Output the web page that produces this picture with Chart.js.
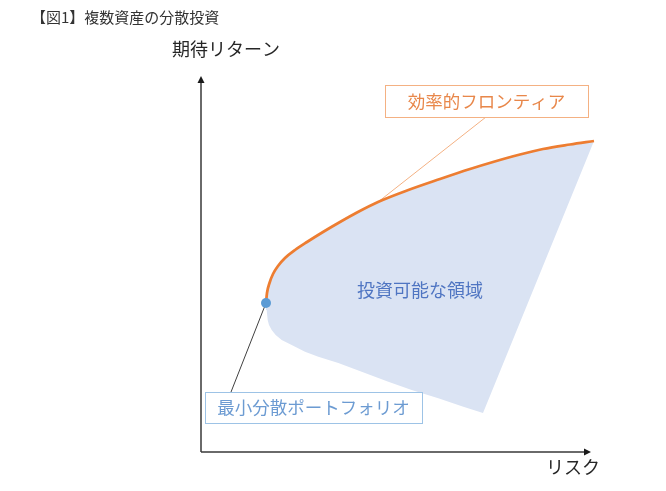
<!DOCTYPE html>
<html lang="ja">
<head>
<meta charset="utf-8">
<title>複数資産の分散投資</title>
<script src="https://cdn.jsdelivr.net/npm/chart.js@4/dist/chart.umd.min.js"></script>
<style>
  html, body { margin: 0; padding: 0; background: #ffffff; }
  canvas { display: block; }
</style>
</head>
<body>
<canvas id="chart" width="666" height="491"></canvas>
<script>
// Efficient frontier (upper edge of the feasible set), risk vs. expected return
const frontierRisk   = [16.25, 16.5, 17.125, 18, 19.25, 21, 23.5, 26.5, 30.5, 34.75, 39, 44.25, 51.5, 59.75, 67.25, 73, 79.75, 85.5, 92.25, 98.25];
const frontierReturn = [37.25, 39.75, 42.25, 44.5, 46.5, 48.5, 50.5, 52.5, 55, 57.5, 59.875, 62.5, 65.375, 68.25, 70.75, 72.5, 74.375, 75.75, 76.875, 77.75];

// Lower edge of the feasible set, from the bottom-right tip back to the minimum-variance point
const lowerRisk   = [70.5, 65.58, 59.33, 52.67, 46.83, 40.17, 34.33, 29.33, 26, 22.67, 20.17, 18.67, 17.67, 17, 16.67, 16.42];
const lowerReturn = [9.75, 11.33, 13.42, 15.5, 17.58, 20.08, 22.25, 23.83, 25.08, 26.75, 28, 29.25, 30.5, 31.75, 33, 35.5];

// Text
const titleText     = '【図1】複数資産の分散投資';
const yAxisTitle    = '期待リターン';
const xAxisTitle    = 'リスク';
const frontierLabel = '効率的フロンティア';
const minVarLabel   = '最小分散ポートフォリオ';
const regionLabel   = '投資可能な領域';

const FONT = '"Noto Sans CJK JP", "Noto Sans", sans-serif';

const frontierPts = frontierRisk.map((x, i) => ({ x, y: frontierReturn[i] }));
const lowerPts    = lowerRisk.map((x, i) => ({ x, y: lowerReturn[i] }));
const regionPts   = frontierPts.concat(lowerPts, [frontierPts[0]]);
const minVarPts   = [frontierPts[0]];
const calloutPt   = frontierPts[11];   // where the frontier label's leader meets the curve

// Decorations: axes with arrows, labels, callout boxes and leader lines
const decorations = {
  id: 'decorations',
  beforeDatasetsDraw(chart) {
    const { ctx, scales: { x, y } } = chart;
    const X = v => x.getPixelForValue(v);
    const Y = v => y.getPixelForValue(v);
    ctx.save();
    ctx.lineWidth = 1;
    // leader: efficient frontier label -> curve
    ctx.strokeStyle = '#F4B183';
    ctx.beginPath();
    ctx.moveTo(X(71.25), Y(83.75));
    ctx.lineTo(X(calloutPt.x), Y(calloutPt.y));
    ctx.stroke();
    // leader: minimum variance label -> point
    ctx.strokeStyle = '#404040';
    ctx.beginPath();
    ctx.moveTo(X(7.5), Y(15));
    ctx.lineTo(X(minVarPts[0].x), Y(minVarPts[0].y));
    ctx.stroke();
    ctx.restore();
  },
  afterDatasetsDraw(chart) {
    const { ctx, scales: { x, y } } = chart;
    const X = v => x.getPixelForValue(v);
    const Y = v => y.getPixelForValue(v);
    ctx.save();

    // axes
    const ox = X(0), oy = Y(0);
    const yTip = Y(94), xTip = X(97.5);
    ctx.strokeStyle = '#3a3a3a';
    ctx.fillStyle = '#1a1a1a';
    ctx.lineWidth = 1.5;
    ctx.beginPath();
    ctx.moveTo(ox, oy);
    ctx.lineTo(ox, yTip + 5);
    ctx.moveTo(ox, oy);
    ctx.lineTo(xTip - 5, oy);
    ctx.stroke();
    ctx.beginPath();
    ctx.moveTo(ox, yTip);
    ctx.lineTo(ox - 3.5, yTip + 7);
    ctx.lineTo(ox + 3.5, yTip + 7);
    ctx.closePath();
    ctx.fill();
    ctx.beginPath();
    ctx.moveTo(xTip, oy);
    ctx.lineTo(xTip - 7, oy - 3.5);
    ctx.lineTo(xTip - 7, oy + 3.5);
    ctx.closePath();
    ctx.fill();

    ctx.textAlign = 'center';
    ctx.textBaseline = 'middle';

    // axis titles
    ctx.fillStyle = '#262626';
    ctx.font = '18px ' + FONT;
    ctx.fillText(yAxisTitle, X(6.25), Y(100.75));
    ctx.fillText(xAxisTitle, X(93), Y(-3.75));

    // callout boxes
    const box = (cx, cy, w, h, border, color, text) => {
      ctx.fillStyle = '#ffffff';
      ctx.fillRect(cx - w / 2, cy - h / 2, w, h);
      ctx.strokeStyle = border;
      ctx.lineWidth = 1;
      ctx.strokeRect(Math.round(cx - w / 2) + 0.5, Math.round(cy - h / 2) + 0.5, w, h);
      ctx.fillStyle = color;
      ctx.font = '17.5px ' + FONT;
      ctx.fillText(text, cx, cy);
    };
    box(X(71.4), Y(87.75), 203, 32, '#F4B183', '#E8874A', frontierLabel);
    box(X(28.1), Y(11.1), 217, 31, '#9DC3E6', '#6C9BD2', minVarLabel);

    // feasible-region label
    ctx.fillStyle = '#4F75C2';
    ctx.font = '18px ' + FONT;
    ctx.fillText(regionLabel, X(54.75), Y(40.5));

    // chart title
    ctx.textAlign = 'left';
    ctx.fillStyle = '#333333';
    ctx.font = '15px ' + FONT;
    ctx.fillText(titleText, 31, 17);

    ctx.restore();
  }
};

new Chart(document.getElementById('chart'), {
  type: 'scatter',
  data: {
    datasets: [
      {
        label: '最小分散ポートフォリオ',
        data: minVarPts,
        pointRadius: 5,
        pointBackgroundColor: '#5B9BD5',
        pointBorderColor: '#5B9BD5',
        pointBorderWidth: 0
      },
      {
        label: '効率的フロンティア',
        data: frontierPts,
        showLine: true,
        borderColor: '#ED7D31',
        borderWidth: 2.75,
        cubicInterpolationMode: 'monotone',
        pointRadius: 0,
        fill: false
      },
      {
        label: '投資可能な領域',
        data: regionPts,
        showLine: true,
        fill: 'shape',
        backgroundColor: '#DAE3F3',
        borderColor: 'rgba(0,0,0,0)',
        borderWidth: 0,
        tension: 0,
        pointRadius: 0
      }
    ]
  },
  options: {
    responsive: false,
    animation: false,
    layout: { padding: { left: 201, top: 52, right: 65, bottom: 39 } },
    scales: {
      x: { type: 'linear', min: 0, max: 100, display: false },
      y: { type: 'linear', min: 0, max: 100, display: false }
    },
    plugins: {
      legend: { display: false },
      tooltip: { enabled: false }
    }
  },
  plugins: [decorations]
});
</script>
</body>
</html>
